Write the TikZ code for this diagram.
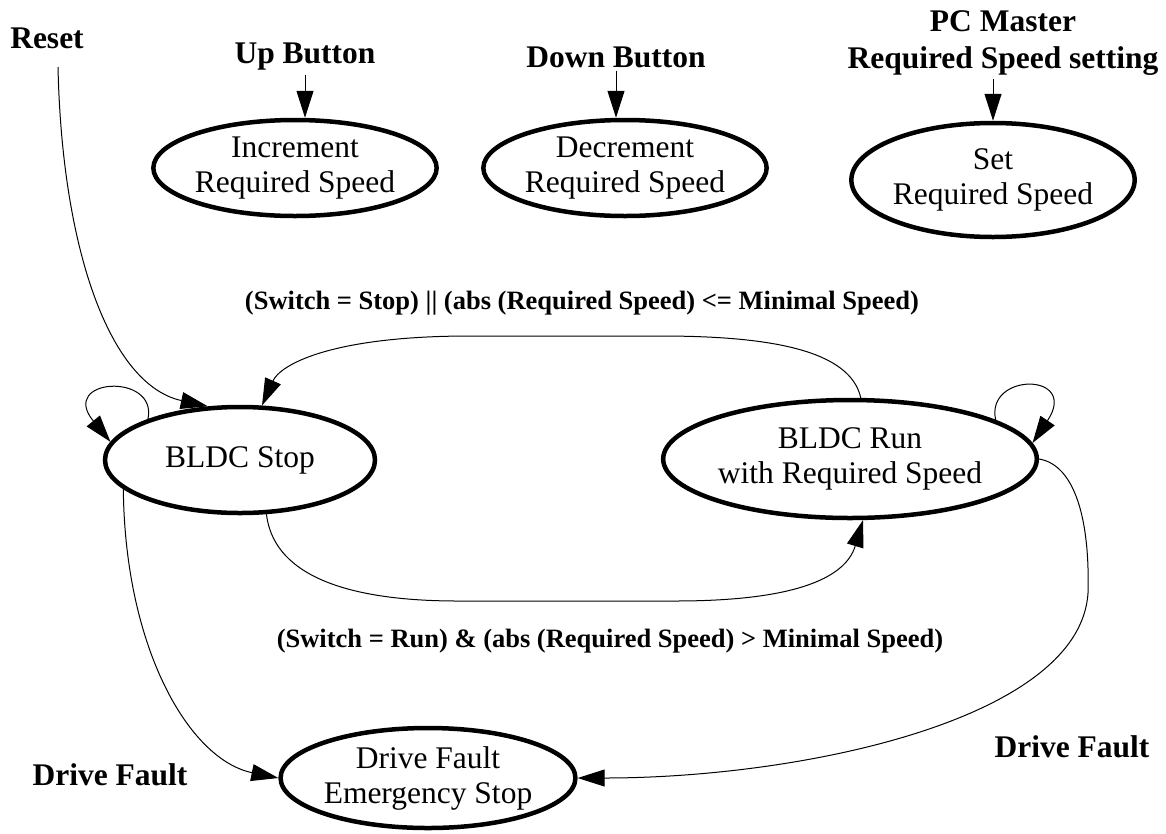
\documentclass[tikz,border=0pt]{standalone}
\usepackage{fontspec}
\setmainfont{Liberation Serif}
\usetikzlibrary{shapes.geometric,arrows.meta}
\begin{document}
\begin{tikzpicture}[x=1pt,y=-1pt,line width=1pt,
	state/.style={ellipse,draw,line width=4.5pt,inner sep=0pt,align=center,
		font=\fontsize{31.5}{35}\selectfont},
	lbl/.style={align=center,font=\fontsize{31.5}{37}\selectfont\bfseries},
	cond/.style={font=\fontsize{26.5}{30}\selectfont\bfseries},
	trans/.style={-{Triangle[length=27pt,width=17pt]}}]
\useasboundingbox (0,0) rectangle (1166,833);
\node[state,minimum width=236,minimum height=96] (inc) at (295,168) {Increment\\Required Speed};
\node[state,minimum width=274,minimum height=96] (dec) at (625,168) {Decrement\\Required Speed};
\node[state,minimum width=268,minimum height=114] (set) at (993,180) {Set\\Required Speed};
\node[state,minimum width=270,minimum height=106] (stop) at (240,460) {BLDC Stop};
\node[state,minimum width=354,minimum height=118] (run) at (850,459) {BLDC Run\\with Required Speed};
\node[state,minimum width=273,minimum height=100] (fault) at (428,778) {Drive Fault\\Emergency Stop};
\node[lbl] (reset) at (47,38) {Reset};
\node[lbl] (up) at (305,57) {Up Button};
\node[lbl] (down) at (616,57) {Down Button};
\node[lbl] (pc) at (1003,43) {PC Master\\Required Speed setting};
\node[lbl] (dfl) at (110,775) {Drive Fault};
\node[lbl] (dfr) at (1072,747) {Drive Fault};
\node[cond] (cstop) at (582,303) {(Switch = Stop) || (abs (Required Speed) <= Minimal Speed)};
\node[cond] (crun) at (610,641) {(Switch = Run) \& (abs (Required Speed) > Minimal Speed)};
\coordinate (rs) at (58,67);
\draw[trans] (up.south) -- (up.south |- inc.north);
\draw[trans] (down.south) -- (down.south |- dec.north);
\draw[trans] (pc.south -| set.north) -- (set.north);
\draw[trans] (rs) .. controls (62,250) and (110,385) .. (stop.121);
\draw[trans] (stop.156) .. controls (158,372) and (58,378) .. (stop.172);
\draw[trans] (run.15) .. controls (985,372) and (1080,372) .. (run.5);
\draw[trans] (run.80) .. controls (850,350) and (770,336) .. (660,336)
	-- (470,336) .. controls (330,336) and (280,365) .. (stop.68);
\draw[trans] (stop.-64) .. controls (275,585) and (370,601) .. (458,601)
	-- (675,601) .. controls (790,601) and (845,580) .. (run.-78);
\draw[trans] (stop.-166) .. controls (125,650) and (190,760) .. (fault.west);
\draw[trans] (run.east) .. controls (1075,465) and (1090,520) .. (1088,593)
	.. controls (1080,720) and (800,778) .. (fault.east);
\end{tikzpicture}
\end{document}
